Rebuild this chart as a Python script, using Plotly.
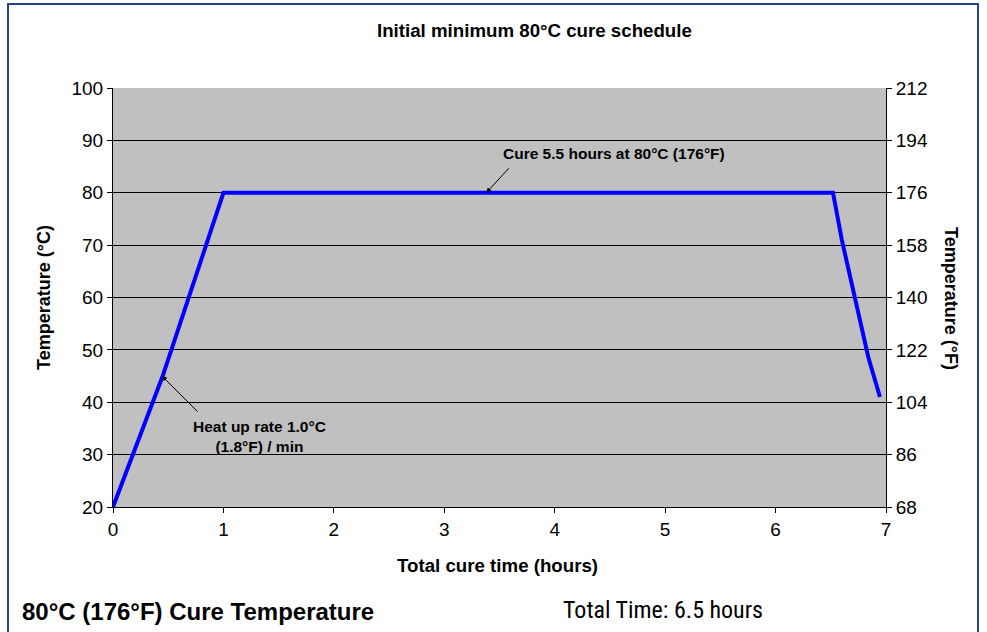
import plotly.graph_objects as go

# Data
time_h = [0.0, 0.45, 1.0, 6.52, 6.60, 6.84, 6.945]
temp_c = [20, 45, 80, 80, 71, 48.6, 41]
temp_f = [c * 1.8 + 32 for c in temp_c]

left_ticks = [20, 30, 40, 50, 60, 70, 80, 90, 100]
right_ticks = [68, 86, 104, 122, 140, 158, 176, 194, 212]
x_ticks = [0, 1, 2, 3, 4, 5, 6, 7]

title = "Initial minimum 80°C cure schedule"
x_title = "Total cure time (hours)"
y_title = "Temperature (°C)"
y2_title = "Temperature (°F)"
cure_note = "Cure 5.5 hours at 80°C (176°F)"
heat_note = "Heat up rate 1.0°C<br>(1.8°F) / min"
footer_left = "80°C (176°F) Cure Temperature"
footer_right = "Total Time: 6.5 hours"

FONT = "Arial, Liberation Sans, sans-serif"

fig = go.Figure()
fig.add_trace(go.Scatter(x=time_h, y=temp_c, mode="lines",
                         line=dict(color="#0000FF", width=4), hoverinfo="skip",
                         showlegend=False))
fig.add_trace(go.Scatter(x=time_h, y=temp_f, mode="lines", yaxis="y2",
                         line=dict(color="rgba(0,0,0,0)", width=0), hoverinfo="skip",
                         showlegend=False))

W, H = 987, 632
L = 113
T = 88
R = W - 886
B = H - 507
pw, ph = W - L - R, H - T - B

def px(x):
    return (x - L) / pw

def py(y):
    return (H - B - y) / ph

fig.update_layout(
    width=W, height=H,
    margin=dict(l=L, r=R, t=T, b=B),
    paper_bgcolor="white",
    plot_bgcolor="#C0C0C0",
    font=dict(family=FONT, color="black", size=19),
    xaxis=dict(range=[0, 7], tickvals=x_ticks, showgrid=False, zeroline=False,
               showline=True, linecolor="black", linewidth=1,
               ticks="outside", ticklen=5, tickcolor="black",
               tickfont=dict(size=19)),
    yaxis=dict(range=[20, 100], tickvals=left_ticks, showgrid=True,
               gridcolor="black", gridwidth=1, zeroline=False,
               showline=True, linecolor="black", linewidth=1,
               ticks="outside", ticklen=5, tickcolor="black",
               tickfont=dict(size=19)),
    yaxis2=dict(range=[68, 212], tickvals=right_ticks, overlaying="y", side="right",
                showgrid=False, zeroline=False, showline=True, linecolor="black",
                linewidth=1, ticks="outside", ticklen=5, tickcolor="black",
                tickfont=dict(size=19)),
)

ann = []
ann.append(dict(text=f"<b>{title}</b>", x=px(534), y=py(30), xref="paper", yref="paper",
                showarrow=False, font=dict(size=18.7), xanchor="center", yanchor="middle"))
ann.append(dict(text=f"<b>{x_title}</b>", x=px(497), y=py(565), xref="paper", yref="paper",
                showarrow=False, font=dict(size=18.7), xanchor="center", yanchor="middle"))
ann.append(dict(text=f"<b>{y_title}</b>", x=px(44), y=py(298), xref="paper", yref="paper",
                showarrow=False, font=dict(size=18), textangle=-90,
                xanchor="center", yanchor="middle"))
ann.append(dict(text=f"<b>{y2_title}</b>", x=px(951), y=py(298), xref="paper", yref="paper",
                showarrow=False, font=dict(size=18), textangle=90,
                xanchor="center", yanchor="middle"))
ann.append(dict(text=f"<b>{footer_left}</b>", x=px(20), y=py(611), xref="paper", yref="paper",
                showarrow=False, font=dict(size=24), xanchor="left", yanchor="middle"))
ann.append(dict(text=footer_right, x=px(561), y=py(610), xref="paper", yref="paper",
                showarrow=False, font=dict(size=24, family="Liberation Sans Narrow, Arial Narrow, Roboto Condensed, sans-serif"),
                xanchor="left", yanchor="middle"))
# annotation texts
ann.append(dict(text=f"<b>{cure_note}</b>", x=px(614), y=py(153), xref="paper", yref="paper",
                showarrow=False, font=dict(size=15.5), xanchor="center", yanchor="middle"))
ann.append(dict(text=f"<b>{heat_note}</b>", x=px(259), y=py(436), xref="paper", yref="paper",
                showarrow=False, font=dict(size=15.5), xanchor="center", yanchor="middle"))
# arrows
ann.append(dict(text="", x=3.38, y=80, xref="x", yref="y", showarrow=True,
                ax=24, ay=-26, arrowhead=2, arrowsize=1, arrowwidth=1, arrowcolor="black"))
ann.append(dict(text="", x=0.444, y=45, xref="x", yref="y", showarrow=True,
                ax=37, ay=37, arrowhead=2, arrowsize=1, arrowwidth=1, arrowcolor="black"))
fig.update_layout(annotations=ann)

fig.add_shape(type="rect", xref="paper", yref="paper",
              x0=px(8), x1=px(978), y0=py(650), y1=py(4),
              line=dict(color="#234585", width=2), fillcolor="rgba(0,0,0,0)", layer="above")

fig.write_html("out.html",
               config={"displayModeBar": False},
               post_script="document.body.style.margin='0px';document.body.style.overflow='hidden';")
